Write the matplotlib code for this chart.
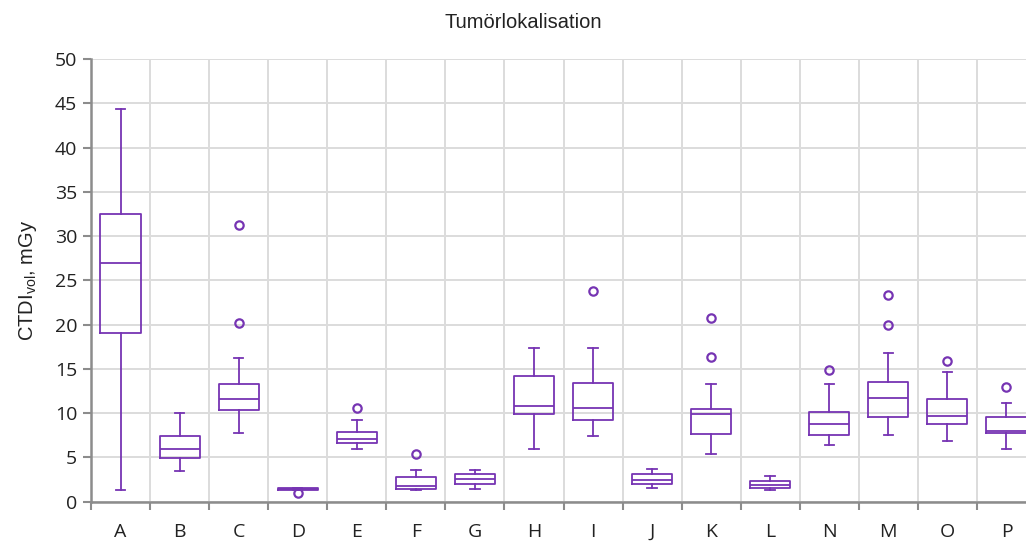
import matplotlib
matplotlib.use("Agg")
import matplotlib.pyplot as plt
import numpy as np

# --- data: box statistics per tumour location ---
labels = ["A", "B", "C", "D", "E", "F", "G", "H", "I", "J", "K", "L", "N", "M", "O", "P"]
whislo = [1.3, 3.5, 7.8, 1.3, 6.0, 1.3, 1.45, 5.9, 7.4, 1.55, 5.35, 1.3, 6.4, 7.5, 6.8, 5.9]
q1     = [19.0, 4.9, 10.4, 1.35, 6.65, 1.4, 2.0, 9.95, 9.25, 2.0, 7.65, 1.55, 7.5, 9.55, 8.8, 7.8]
med    = [27.0, 5.95, 11.6, 1.45, 7.1, 1.75, 2.55, 10.8, 10.55, 2.5, 9.95, 1.85, 8.8, 11.75, 9.7, 7.95]
q3     = [32.5, 7.4, 13.3, 1.5, 7.85, 2.75, 3.1, 14.15, 13.4, 3.1, 10.45, 2.3, 10.1, 13.5, 11.55, 9.55]
whishi = [44.3, 10.0, 16.2, 1.6, 9.25, 3.6, 3.6, 17.4, 17.4, 3.7, 13.3, 2.85, 13.3, 16.8, 14.6, 11.1]
fliers = [[], [], [31.2, 20.2], [1.0], [10.6], [5.35], [], [], [23.8], [], [20.75, 16.3],
          [], [14.9], [23.4, 20.0], [15.9], [12.9]]

purple = "#7634b3"
grid_c = "#dcdcdc"
axis_c = "#8c8c8c"

stats = []
for i in range(len(labels)):
    stats.append(dict(label=labels[i], whislo=whislo[i], q1=q1[i], med=med[i],
                      q3=q3[i], whishi=whishi[i], fliers=fliers[i]))

fig = plt.figure(figsize=(10.26, 5.45), dpi=100)
ax = fig.add_axes([91 / 1026, 43.3 / 545, 945 / 1026, 442.7 / 545])

pos = np.arange(len(labels))
line = dict(color=purple, linewidth=1.3)
ax.bxp(stats, positions=pos, widths=0.68, capwidths=0.16,
       boxprops=line, whiskerprops=line, capprops=line, medianprops=line,
       flierprops=dict(marker="o", markersize=6, markerfacecolor="none",
                       markeredgecolor=purple, markeredgewidth=1.6),
       manage_ticks=False)

ax.set_xlim(-0.5, len(labels) - 0.5)
ax.set_ylim(0, 50)

# boundaries between categories carry the ticks and grid lines
ax.set_xticks(np.arange(-0.5, len(labels), 1.0))
ax.set_xticklabels([])
ax.set_xticks(pos, minor=True)
ax.set_xticklabels(labels, minor=True)
ax.tick_params(axis="x", which="minor", length=0, pad=15, labelsize=14, labelcolor="#222222")
ax.tick_params(axis="x", which="major", length=6, width=1.5, color=axis_c)

ax.set_yticks(np.arange(0, 51, 5))
ax.tick_params(axis="y", length=6, width=1.5, color=axis_c, labelsize=14,
               labelcolor="#222222", pad=4)
for t in ax.get_yticklabels() + ax.get_xticklabels(minor=True):
    t.set_fontfamily("Open Sans")

ax.grid(True, which="major", color=grid_c, linewidth=1.4)
ax.set_axisbelow(True)
for side in ["top", "right"]:
    ax.spines[side].set_visible(False)
for side in ["left", "bottom"]:
    ax.spines[side].set_color(axis_c)
    ax.spines[side].set_linewidth(1.8)

ax.set_ylabel(r"CTDI$_{\mathregular{vol}}$, mGy", fontsize=14.5, family="Liberation Sans",
              color="#222222", labelpad=11)
fig.text(523 / 1026, 1 - 22 / 545, "Tumörlokalisation", ha="center", va="center",
         fontsize=14.5, family="Liberation Sans", color="#222222")

fig.savefig("out.png", dpi=100)
